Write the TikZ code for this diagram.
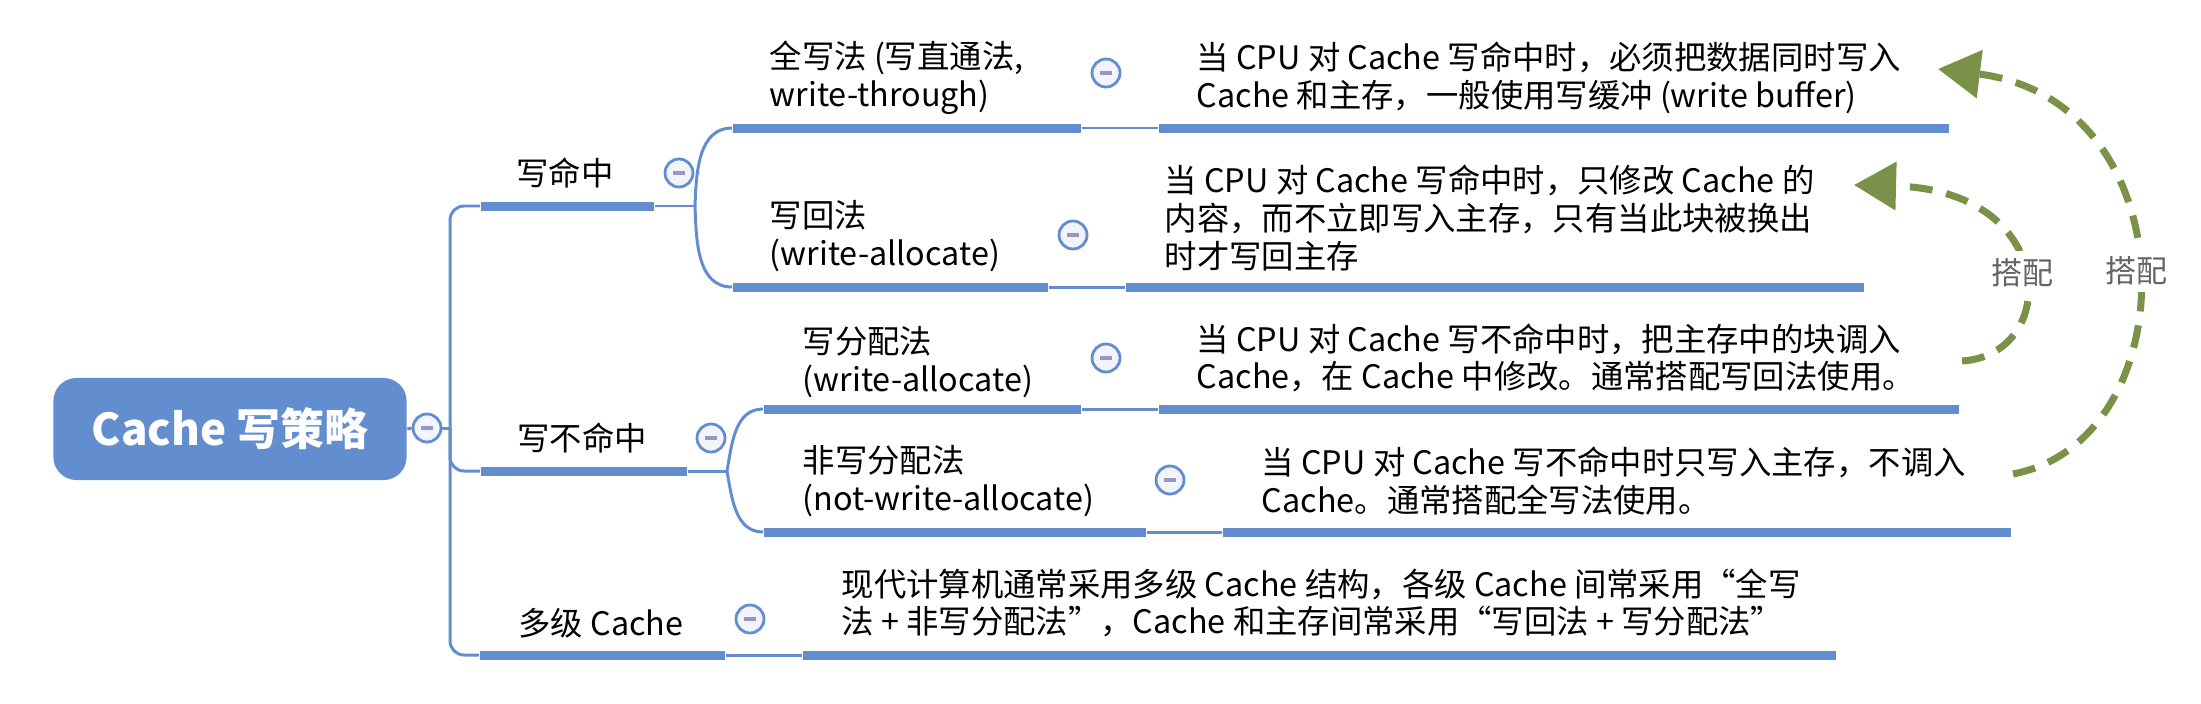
\documentclass[tikz,border=0pt]{standalone}
\usepackage{fontspec}
\setmainfont{Noto Sans CJK SC}
\usetikzlibrary{arrows.meta}
\definecolor{mapblue}{RGB}{98,141,207}
\definecolor{foldgray}{RGB}{243,244,250}
\definecolor{minusgray}{RGB}{150,150,200}
\definecolor{pairgreen}{RGB}{122,145,72}
\definecolor{labelgray}{RGB}{100,100,100}
\tikzset{
    rootnode/.style={
        rectangle,
        rounded corners=0.23cm,
        fill=mapblue, % 根节点填充蓝色
        minimum width=3.53cm,
        minimum height=1.02cm,
        inner sep=0,
        text=white,
        font=\fontsize{12.5}{15}\selectfont\bfseries
    },
    topicnode/.style={
        inner sep=0,
        font=\fontsize{9.2}{10.7}\selectfont
    },
    leafnode/.style={
        inner sep=0,
        anchor=west,
        align=left,
        font=\fontsize{9.2}{10.7}\selectfont
    },
    bar/.style={
        rectangle,
        fill=mapblue, % 下划线
        inner sep=0,
        minimum height=0.09cm,
        anchor=west
    },
    link/.style={
        draw=mapblue,
        line width=0.85pt
    },
    foldnode/.style={
        circle,
        draw=mapblue,
        fill=foldgray,
        line width=0.8pt,
        minimum size=0.28cm,
        inner sep=0,
        path picture={
            \draw[minusgray, line width=0.9pt]
                ([xshift=-0.06cm]path picture bounding box.center) --
                ([xshift=0.06cm]path picture bounding box.center);
        }
    },
    pairarrow/.style={
        draw=pairgreen,
        line width=2pt,
        dash pattern=on 6.5pt off 4pt,
        -{Triangle[length=0.42cm,width=0.47cm]}
    },
    pairlabel/.style={
        fill=white,
        text=labelgray,
        inner sep=2pt,
        font=\fontsize{8.8}{10}\selectfont
    }
}
\begin{document}
\begin{tikzpicture}[x=0.01cm, y=-0.01cm]
    \useasboundingbox (0,0) rectangle (2201,703);
    % 根节点
    \node[rootnode] (root) at (230,429) {Cache 写策略};
    \node[foldnode] (rootfold) at (427,428) {};
    \coordinate (trunk) at (450,428);
    % 一级分支
    \node[bar, minimum width=1.73cm] (hitbar) at (480,206) {};
    \node[topicnode] (hit) at (565,173) {写命中};
    \node[foldnode] (hitfold) at (679,173) {};
    \coordinate (hitfork) at (695,206);
    \node[bar, minimum width=2.06cm] (missbar) at (480,471) {};
    \node[topicnode] (miss) at (582,438) {写不命中};
    \node[foldnode] (missfold) at (711,438) {};
    \coordinate (missfork) at (727,471);
    \node[bar, minimum width=2.45cm] (multibar) at (479,655) {};
    \node[topicnode] (multi) at (601,623) {多级 Cache};
    \node[foldnode] (multifold) at (750,619) {};
    % 写命中
    \node[bar, minimum width=3.48cm] (wtbar) at (732,128) {};
    \node[leafnode] (wt) at (769,78) {全写法 (写直通法,\\write-through)};
    \node[foldnode] (wtfold) at (1106,73) {};
    \node[bar, minimum width=7.90cm] (wtdescbar) at (1158,128) {};
    \node[leafnode] (wtdesc) at (1196,78) {当 CPU 对 Cache 写命中时，必须把数据同时写入\\Cache 和主存，一般使用写缓冲 (write buffer)};
    \node[bar, minimum width=3.15cm] (wbbar) at (732,287) {};
    \node[leafnode] (wb) at (769,236) {写回法\\(write-allocate)};
    \node[foldnode] (wbfold) at (1073,235) {};
    \node[bar, minimum width=7.38cm] (wbdescbar) at (1125,287) {};
    \node[leafnode] (wbdesc) at (1164,218) {当 CPU 对 Cache 写命中时，只修改 Cache 的\\内容，而不立即写入主存，只有当此块被换出\\时才写回主存};
    % 写不命中
    \node[bar, minimum width=3.17cm] (wabar) at (763,409) {};
    \node[leafnode] (wa) at (802,362) {写分配法\\(write-allocate)};
    \node[foldnode] (wafold) at (1106,358) {};
    \node[bar, minimum width=8.00cm] (wadescbar) at (1158,409) {};
    \node[leafnode] (wadesc) at (1196,358) {当 CPU 对 Cache 写不命中时，把主存中的块调入\\Cache，在 Cache 中修改。通常搭配写回法使用。};
    \node[bar, minimum width=3.82cm] (nwabar) at (763,532) {};
    \node[leafnode] (nwa) at (802,481) {非写分配法\\(not-write-allocate)};
    \node[foldnode] (nwafold) at (1170,480) {};
    \node[bar, minimum width=7.88cm] (nwadescbar) at (1222,532) {};
    \node[leafnode] (nwadesc) at (1261,481) {当 CPU 对 Cache 写不命中时只写入主存，不调入\\Cache。通常搭配全写法使用。};
    % 多级 Cache
    \node[bar, minimum width=10.33cm] (multidescbar) at (802,655) {};
    \node[leafnode] (multidesc) at (841,603) {现代计算机通常采用多级 Cache 结构，各级 Cache 间常采用“全写\\法 + 非写分配法”，Cache 和主存间常采用“写回法 + 写分配法”};
    % 连线
    \draw[link] (root.east) -- (rootfold.west);
    \draw[link] (rootfold.east) -- (trunk);
    \draw[link, rounded corners=4pt] (hitbar.west) -| (trunk) |- (multibar.west);
    \draw[link, rounded corners=4pt] (trunk) |- (missbar.west);
    \draw[link] (hitbar.east) -- (hitfork);
    \draw[link] (hitfork) to[out=88, in=180] (wtbar.west);
    \draw[link] (hitfork) to[out=-88, in=180] (wbbar.west);
    \draw[link] (missbar.east) -- (missfork);
    \draw[link] (missfork) to[out=80, in=180] (wabar.west);
    \draw[link] (missfork) to[out=-80, in=180] (nwabar.west);
    \draw[link] (multibar.east) -- (multidescbar.west);
    \draw[link] (wtbar.east) -- (wtdescbar.west);
    \draw[link] (wbbar.east) -- (wbdescbar.west);
    \draw[link] (wabar.east) -- (wadescbar.west);
    \draw[link] (nwabar.east) -- (nwadescbar.west);
    % 搭配
    \coordinate (watail) at (1962,361);
    \coordinate (wbhead) at (1854,185);
    \coordinate (nwatail) at (2013,474);
    \coordinate (wthead) at (1938,69);
    \draw[pairarrow] (watail) .. controls (2060,355) and (2060,190) .. (wbhead)
        node[pairlabel, pos=0.5] (pairwb) {搭配};
    \draw[pairarrow] (nwatail) .. controls (2190,440) and (2190,100) .. (wthead)
        node[pairlabel, pos=0.5] (pairwt) {搭配};
\end{tikzpicture}
\end{document}
